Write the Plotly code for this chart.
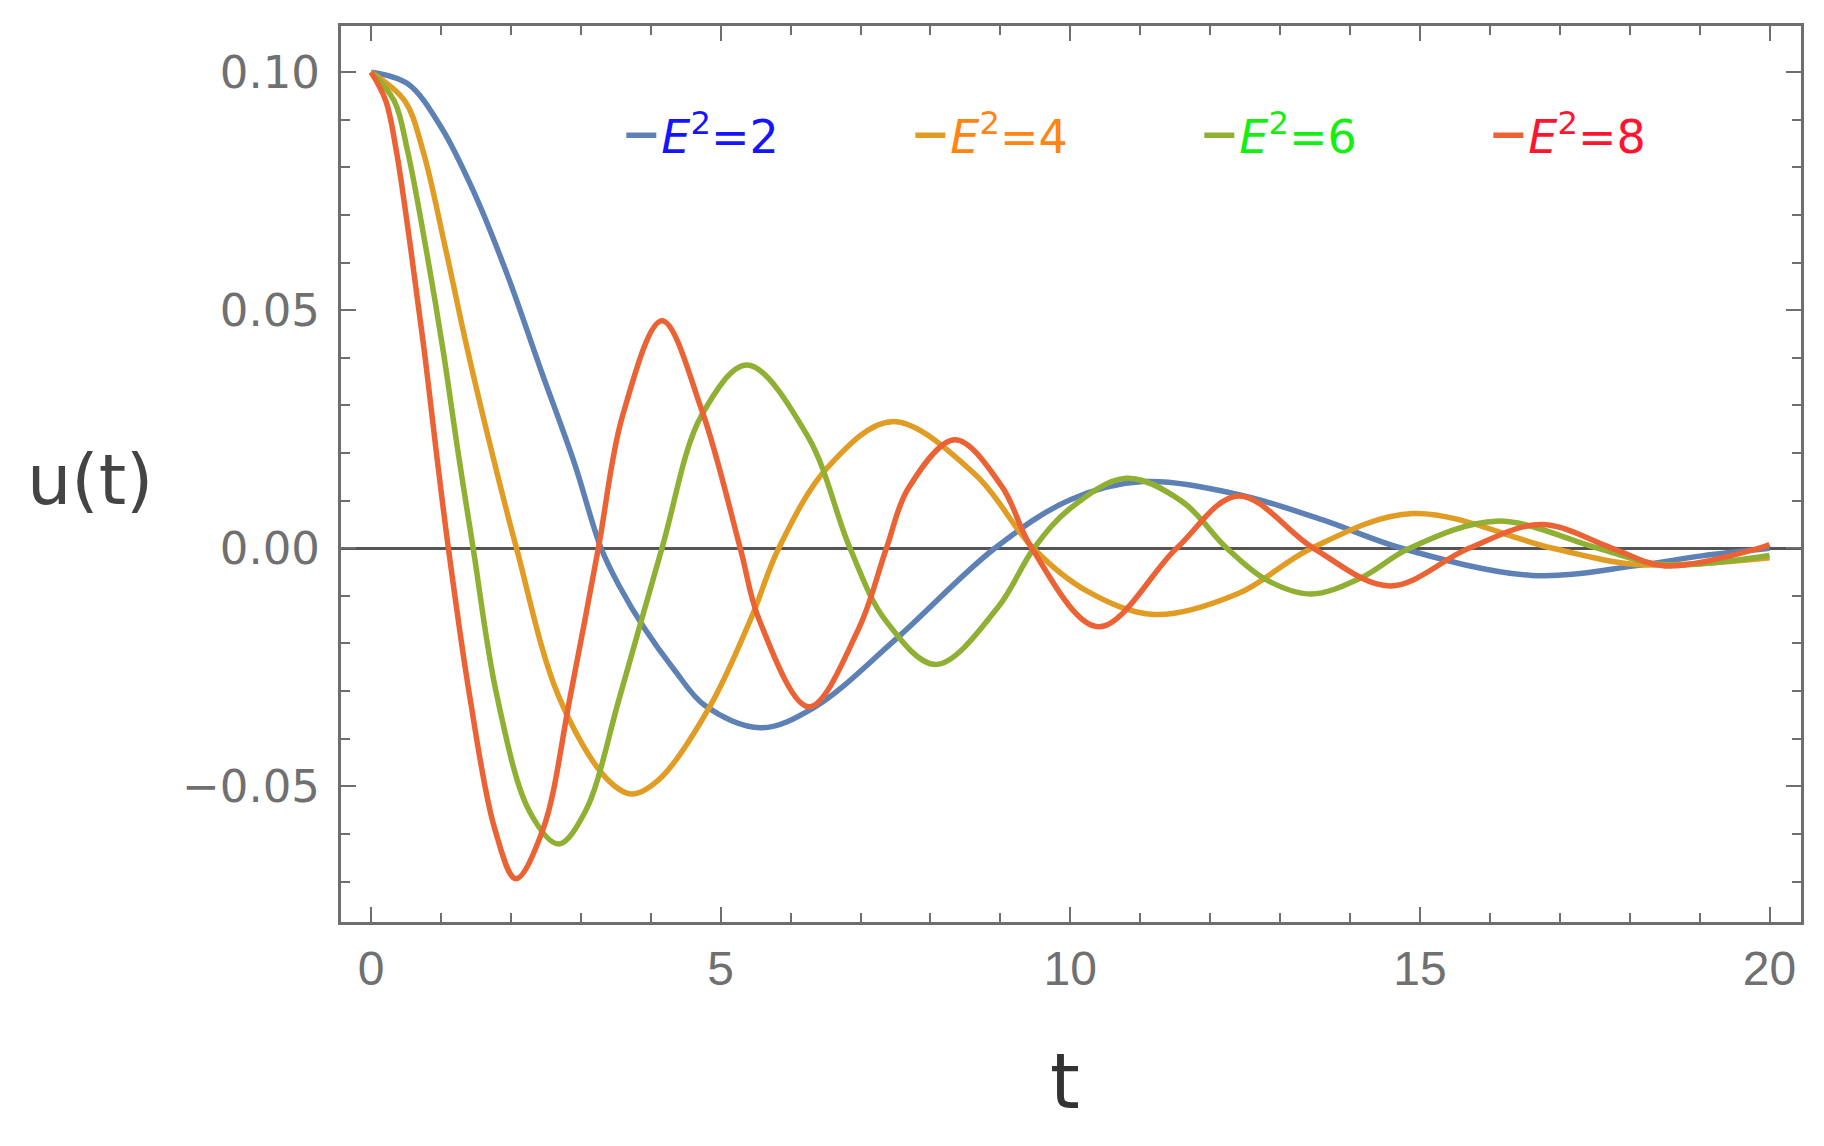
import plotly.graph_objects as go

# ---- data (t, u(t)) ----
t_e2 = [0, 0.52, 1.0, 1.48, 1.96, 2.43, 2.91, 3.29, 3.56, 3.90, 4.33, 4.78, 5.57, 6.34, 7.49,
        8.92, 10.0, 11.04, 12.4, 13.6, 14.74, 16.6, 18.08, 19.03, 20]
u_e2 = [0.100, 0.0976, 0.0885, 0.0745, 0.057, 0.0374, 0.0178, 0.0, -0.0082, -0.0166, -0.0254,
        -0.0331, -0.0377, -0.0334, -0.0193, 0.0, 0.0102, 0.0140, 0.0113, 0.0060, 0.0, -0.0057,
        -0.0037, -0.0016, 0.0]

t_e4 = [0, 0.48, 0.74, 1.07, 1.38, 1.72, 2.08, 2.68, 3.37, 3.73, 4.13, 4.85, 5.44, 5.83, 6.53,
        7.45, 8.64, 9.47, 10.24, 11.2, 12.4, 13.45, 14.9, 16.9, 18.1, 20]
u_e4 = [0.1, 0.094, 0.0836, 0.0626, 0.0416, 0.0206, 0.0, -0.0310, -0.0484, -0.0516, -0.0484,
        -0.0331, -0.0145, 0.0, 0.0170, 0.0266, 0.0155, 0.0, -0.0090, -0.0139, -0.0095, 0.0,
        0.0073, 0.0, -0.0034, -0.002]

t_e6 = [0, 0.33, 0.52, 0.79, 1.03, 1.24, 1.46, 1.80, 2.27, 2.68, 3.06, 3.56, 4.16, 4.73,
        5.38, 6.25, 6.85, 7.35, 8.08, 8.96, 9.48, 10.0, 10.8, 11.6, 12.24, 12.8, 13.44, 14.16,
        14.85, 16.1, 17.55, 18.45, 20]
u_e6 = [0.1, 0.094, 0.0836, 0.0626, 0.0416, 0.0206, 0.0, -0.0310, -0.0554, -0.0621, -0.0554,
        -0.0310, 0.0, 0.0280, 0.0385, 0.0234, 0.0, -0.0150, -0.0244, -0.0125, 0.0,
        0.0084, 0.0147, 0.0098, 0.0, -0.0066, -0.0096, -0.0062, 0.0, 0.0057, 0.0, -0.0034,
        -0.0015]

t_e8 = [0, 0.21, 0.36, 0.57, 0.76, 0.93, 1.106, 1.41, 1.77, 2.07, 2.46, 2.85, 3.25, 3.60, 4.16,
        4.73, 5.28, 5.55, 6.26, 6.97, 7.37, 7.68, 8.35, 9.02, 9.45, 10.4, 11.52, 12.4, 13.48,
        14.57, 15.7, 16.74, 17.75, 18.5, 19.85, 20]
u_e8 = [0.1, 0.094, 0.0836, 0.0626, 0.0416, 0.0206, 0.0, -0.0310, -0.0590, -0.0694, -0.0590,
        -0.0310, 0.0, 0.0280, 0.0478, 0.0290, 0.0, -0.0150, -0.0333, -0.0170, 0.0, 0.0125,
        0.0228, 0.0130, 0.0, -0.0165, 0.0, 0.011, 0.0, -0.0079, 0.0, 0.005, 0.0, -0.0037, 0.0,
        0.0008]

legend_values = ["2", "4", "6", "8"]
line_colors = ["#5E81B5", "#E19C24", "#8FB032", "#EB6235"]
text_colors = ["#1414FF", "#FF8412", "#12F012", "#FF1430"]

x_ticks = [0, 5, 10, 15, 20]
y_ticks = [-0.05, 0.0, 0.05, 0.10]
y_ticklabels = ["\u22120.05", "0.00", "0.05", "0.10"]

fig = go.Figure()
for tt, uu, val, lc, tc in zip([t_e2, t_e4, t_e6, t_e8], [u_e2, u_e4, u_e6, u_e8],
                               legend_values, line_colors, text_colors):
    fig.add_trace(go.Scatter(
        x=tt, y=uu, mode="lines",
        line=dict(color=lc, width=5.5, shape="spline", smoothing=1.0),
        name=f'<span style="color:{tc}"><i>E</i><sup>2</sup>={val}</span>',
    ))

frame_col = "#6e6e6e"
fig.update_layout(
    width=1816, height=1138,
    margin=dict(l=333, r=23, t=18, b=224, autoexpand=False),
    paper_bgcolor="white", plot_bgcolor="white",
    showlegend=True,
    legend=dict(orientation="h", x=0.192, y=0.878, xanchor="left", yanchor="middle",
                font=dict(family="DejaVu Sans", size=46), bgcolor="rgba(0,0,0,0)",
                entrywidth=244, entrywidthmode="pixels"),
    xaxis=dict(range=[-0.43, 20.45], tickvals=x_ticks, ticktext=[str(v) for v in x_ticks],
               ticks="inside", ticklen=15, tickwidth=2, tickcolor=frame_col,
               minor=dict(dtick=1, ticks="inside", ticklen=9, tickwidth=2, tickcolor=frame_col),
               showline=True, linecolor=frame_col, linewidth=3, mirror="ticks",
               showgrid=False, zeroline=False,
               tickfont=dict(family="Liberation Sans Narrow, Liberation Sans", size=48,
                             color="#707070"),
               ticklabelstandoff=2),
    yaxis=dict(range=[-0.0785, 0.1097], tickvals=y_ticks, ticktext=y_ticklabels,
               ticks="inside", ticklen=15, tickwidth=2, tickcolor=frame_col,
               minor=dict(dtick=0.01, ticks="inside", ticklen=9, tickwidth=2, tickcolor=frame_col),
               showline=True, linecolor=frame_col, linewidth=3, mirror="ticks",
               showgrid=False, zeroline=True, zerolinecolor="#555555", zerolinewidth=2.5,
               tickfont=dict(family="DejaVu Sans", size=45, color="#707070"),
               ticklabelstandoff=9),
    annotations=[
        dict(text="u(t)", xref="paper", yref="paper", x=-0.172, y=0.493, xanchor="center",
             yanchor="middle", showarrow=False,
             font=dict(family="DejaVu Sans", size=70, color="#444444")),
        dict(text="t", xref="paper", yref="paper", x=0.496, y=-0.178, xanchor="center",
             yanchor="middle", showarrow=False,
             font=dict(family="DejaVu Sans", size=76, color="#333333")),
    ],
)

fig.write_html("out.html")
